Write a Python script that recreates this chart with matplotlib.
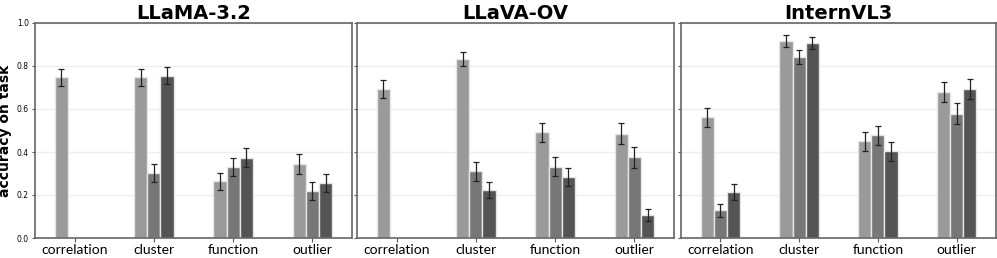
import numpy as np
import matplotlib.pyplot as plt
plt.switch_backend('agg')

models = ['LLaMA-3.2', 'LLaVA-OV', 'InternVL3']
tasks = ['correlation', 'cluster', 'function', 'outlier']

# three conditions per task, per model (0 = no bar)
acc = {
	'LLaMA-3.2': [[0.748, 0.0, 0.0],
	              [0.748, 0.302, 0.754],
	              [0.263, 0.330, 0.374],
	              [0.344, 0.217, 0.254]],
	'LLaVA-OV':  [[0.692, 0.0, 0.0],
	              [0.832, 0.310, 0.224],
	              [0.492, 0.332, 0.283],
	              [0.486, 0.375, 0.106]],
	'InternVL3': [[0.561, 0.128, 0.212],
	              [0.917, 0.841, 0.908],
	              [0.449, 0.478, 0.403],
	              [0.678, 0.579, 0.693]],
}
err = {
	'LLaMA-3.2': [[0.040, 0.0, 0.0],
	              [0.040, 0.043, 0.040],
	              [0.040, 0.042, 0.044],
	              [0.047, 0.042, 0.042]],
	'LLaVA-OV':  [[0.043, 0.0, 0.0],
	              [0.033, 0.044, 0.038],
	              [0.044, 0.043, 0.041],
	              [0.050, 0.049, 0.029]],
	'InternVL3': [[0.044, 0.030, 0.037],
	              [0.027, 0.033, 0.028],
	              [0.046, 0.045, 0.044],
	              [0.047, 0.048, 0.047]],
}
colors = ['#9a9a9a', '#777777', '#545454']

fig = plt.figure(figsize=(9.97, 2.58), dpi=100)
lefts = [35, 357, 681]
widths = [317, 317, 315]
x = np.arange(len(tasks))
w = 1 / 6

for i, m in enumerate(models):
	ax = fig.add_axes([lefts[i] / 997, 20 / 258, widths[i] / 997, 215 / 258])
	vals = np.array(acc[m])
	errs = np.array(err[m])
	for j in range(3):
		v = vals[:, j]
		e = errs[:, j]
		keep = v > 0
		ax.bar(x[keep] + (j - 1) * w, v[keep], w, color=colors[j],
			edgecolor='#e6e6e6', linewidth=1.0, zorder=2)
		ax.errorbar(x[keep] + (j - 1) * w, v[keep], yerr=e[keep], fmt='none',
			ecolor='#222222', elinewidth=0.9, capsize=2.5, capthick=0.9, zorder=3)
	ax.set_xlim(-0.5, 3.5)
	ax.set_ylim(0, 1)
	ax.set_yticks([0, 0.2, 0.4, 0.6, 0.8, 1.0])
	ax.yaxis.grid(True, color='#eeeeee', linewidth=1, zorder=0)
	ax.set_axisbelow(True)
	ax.set_xticks(x)
	ax.set_xticklabels(tasks, fontsize=10, family='Lato')
	ax.tick_params(axis='x', length=3, pad=1, color='#555555')
	ax.tick_params(axis='y', labelsize=5.5, length=2.5, pad=2, color='#555555')
	if i > 0:
		ax.set_yticklabels([])
	else:
		ax.set_ylabel('accuracy on task', fontsize=10, fontweight='bold', labelpad=3)
	for s in ax.spines.values():
		s.set_color('#666666')
		s.set_linewidth(1.2)
	ax.set_title(m, fontsize=14, fontweight='bold', pad=2)

fig.savefig('out.png', dpi=100)
